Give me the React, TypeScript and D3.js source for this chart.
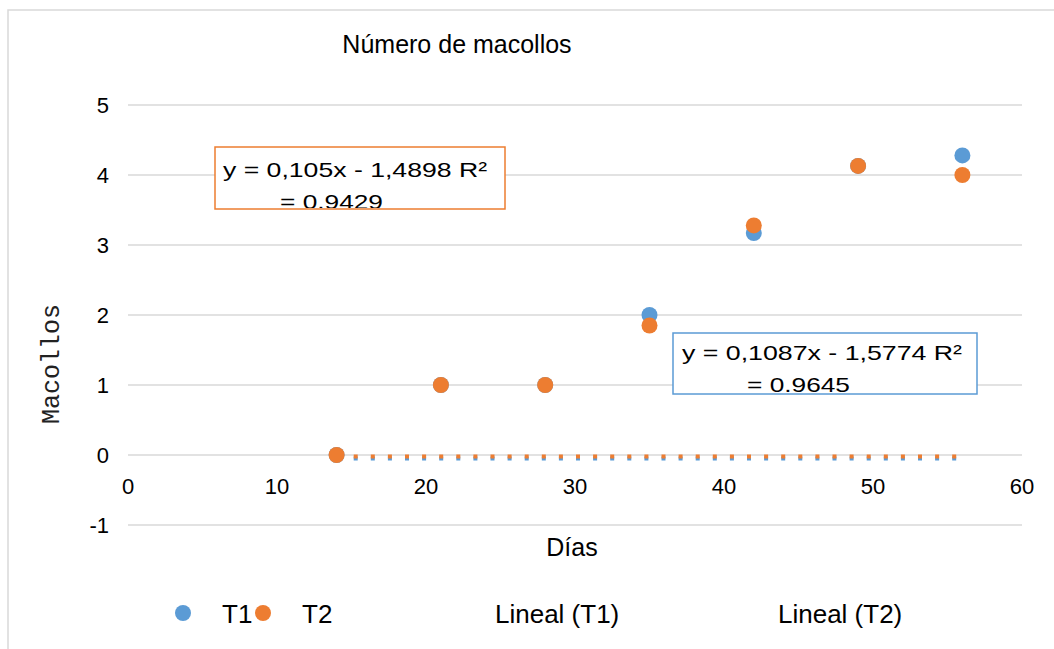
import { scaleLinear, line } from "d3";

const days = [14, 21, 28, 35, 42, 49, 56];
const t1 = [0, 1, 1, 2, 3.17, 4.13, 4.28];
const t2 = [0, 1, 1, 1.85, 3.28, 4.13, 4.0];

// trendlines as they show up in the picture (drawn flat on the zero line)
const trendDays = [14, 56];
const trendT1 = [0, 0];
const trendT2 = [0, 0];

const xTicks = [0, 10, 20, 30, 40, 50, 60];
const yTicks = [-1, 0, 1, 2, 3, 4, 5];

const eqT1 = ["y = 0,1087x - 1,5774 R²", "= 0.9645"];
const eqT2 = ["y = 0,105x - 1,4898 R²", "= 0.9429"];

const legendLabels = ["T1", "T2", "Lineal (T1)", "Lineal (T2)"];

const BLUE = "#5b9bd5";
const ORANGE = "#ed7d31";
const GRID = "#d9d9d9";
const SANS = "'Liberation Sans', Arial, Helvetica, sans-serif";

const width = 1054;
const height = 649;

export default function App() {
  const x = scaleLinear().domain([0, 60]).range([128, 1022]);
  const y = scaleLinear().domain([-1, 5]).range([525, 105]);

  const trendPath = (vals: number[]) =>
    line<number>()
      .x((_, i) => x(trendDays[i]))
      .y((d) => y(d))(vals) ?? "";

  return (
    <svg
      width={width}
      height={height}
      viewBox={`0 0 ${width} ${height}`}
      style={{ position: "absolute", left: 0, top: 0, background: "#fff" }}
    >
      <defs>
        <clipPath id="clipT2">
          <rect x={215} y={147} width={290} height={61} />
        </clipPath>
        <clipPath id="clipT1">
          <rect x={673} y={333} width={304} height={60} />
        </clipPath>
      </defs>

      <rect x={8} y={10} width={1080} height={700} fill="#fff" stroke={GRID} strokeWidth={1.5} />

      <text x={457} y={53} textAnchor="middle" fontFamily={SANS} fontSize={25} fill="#000">
        Número de macollos
      </text>

      {yTicks.map((t) => (
        <g key={t}>
          <line x1={x(0)} x2={x(60)} y1={y(t)} y2={y(t)} stroke={GRID} strokeWidth={1.5} />
          <text
            x={109}
            y={y(t) + 8}
            textAnchor="end"
            fontFamily={SANS}
            fontSize={22}
            fill="#000"
          >
            {t}
          </text>
        </g>
      ))}

      {xTicks.map((t) => (
        <text
          key={t}
          x={x(t)}
          y={494}
          textAnchor="middle"
          fontFamily={SANS}
          fontSize={22}
          fill="#000"
        >
          {t}
        </text>
      ))}

      <text x={572} y={556} textAnchor="middle" fontFamily={SANS} fontSize={25} fill="#000">
        Días
      </text>

      <text
        transform="translate(59,364) rotate(-90)"
        textAnchor="middle"
        fontFamily="'Liberation Mono', 'Courier New', monospace"
        fontSize={25}
        fill="#222"
      >
        Macollos
      </text>

      <path
        d={trendPath(trendT1)}
        transform="translate(0,3.5)"
        stroke={BLUE}
        strokeWidth={4}
        strokeDasharray="4 13.1"
        fill="none"
      />
      <path
        d={trendPath(trendT2)}
        transform="translate(0,1.5)"
        stroke={ORANGE}
        strokeWidth={4}
        strokeDasharray="4 13.1"
        fill="none"
      />

      {days.map((d, i) => (
        <circle key={`a${i}`} cx={x(d)} cy={y(t1[i])} r={8} fill={BLUE} />
      ))}
      {days.map((d, i) => (
        <circle key={`b${i}`} cx={x(d)} cy={y(t2[i])} r={8} fill={ORANGE} />
      ))}

      <rect x={215} y={147} width={290} height={62} fill="#fff" stroke={ORANGE} strokeWidth={1.5} />
      <g clipPath="url(#clipT2)" fontFamily={SANS} fontSize={21} fill="#000">
        <text x={223} y={177} textLength={264} lengthAdjust="spacingAndGlyphs">
          {eqT2[0]}
        </text>
        <text x={280} y={209} textLength={103} lengthAdjust="spacingAndGlyphs">
          {eqT2[1]}
        </text>
      </g>

      <rect x={673} y={333} width={304} height={61} fill="#fff" stroke={BLUE} strokeWidth={1.5} />
      <g clipPath="url(#clipT1)" fontFamily={SANS} fontSize={21} fill="#000">
        <text x={682} y={360} textLength={280} lengthAdjust="spacingAndGlyphs">
          {eqT1[0]}
        </text>
        <text x={747} y={392} textLength={103} lengthAdjust="spacingAndGlyphs">
          {eqT1[1]}
        </text>
      </g>

      <g fontFamily={SANS} fontSize={26} fill="#000">
        <circle cx={183} cy={613} r={8} fill={BLUE} />
        <text x={222} y={623}>{legendLabels[0]}</text>
        <circle cx={263} cy={613} r={8} fill={ORANGE} />
        <text x={302} y={623}>{legendLabels[1]}</text>
        <text x={495} y={623}>{legendLabels[2]}</text>
        <text x={778} y={623}>{legendLabels[3]}</text>
      </g>
    </svg>
  );
}
